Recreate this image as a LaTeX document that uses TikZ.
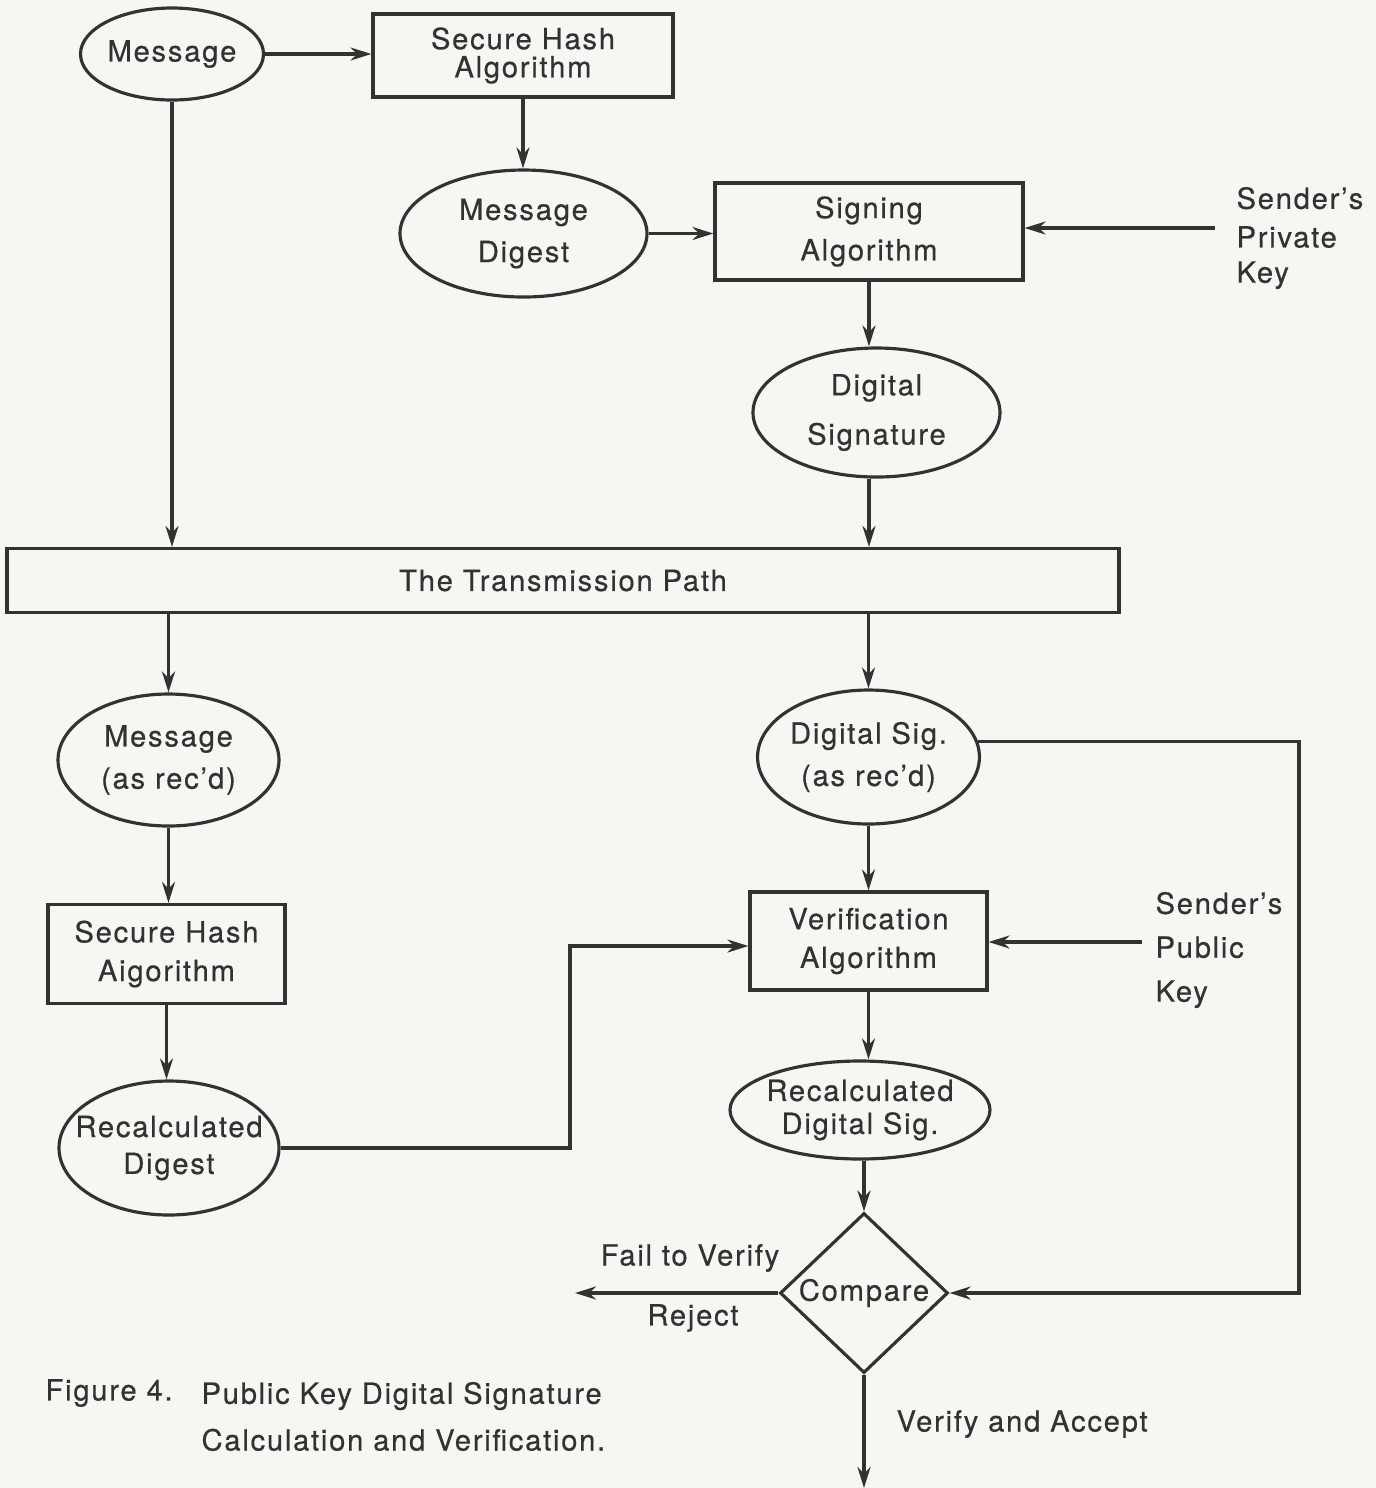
\documentclass[tikz,border=0pt]{standalone}
\usepackage{fontspec}
\setmainfont{TeX Gyre Heros}[LetterSpace=6,FakeBold=0.5]
\usetikzlibrary{shapes.geometric,arrows.meta}
\definecolor{paper}{RGB}{246,246,243}
\definecolor{ink}{RGB}{50,50,50}
\begin{document}
\begin{tikzpicture}[line width=0.9pt,draw=ink,text=ink,
    font=\fontsize{8.3}{10}\selectfont,
    box/.style={draw,rectangle,inner sep=0pt,align=center},
    oval/.style={draw,ellipse,inner sep=0pt,align=center},
    arr/.style={draw=ink,-{Stealth[length=2.1mm,width=1.3mm]}}]
  \fill[paper] (0,0) rectangle (13.76,-14.88);
  \useasboundingbox (0,0) rectangle (13.76,-14.88);
  \path (1.72,-0.54) node[oval,minimum width=1.83cm,minimum height=0.92cm] (msg) {Message};
  \path (5.23,-0.555) node[box,minimum width=3.00cm,minimum height=0.83cm] (sha) {Secure Hash\\[-2pt]Algorithm};
  \path (5.235,-2.335) node[oval,minimum width=2.47cm,minimum height=1.27cm] (md) {Message\\[2pt]Digest};
  \path (8.69,-2.315) node[box,minimum width=3.08cm,minimum height=0.97cm] (sign) {Signing\\[2pt]Algorithm};
  \path (12.35,-2.38) node[anchor=west,align=left,inner sep=0pt] (privkey) {Sender's\\[1pt]Private\\Key};
  \path (8.765,-4.125) node[oval,minimum width=2.47cm,minimum height=1.29cm] (ds) {Digital\\[4pt]Signature};
  \path (5.63,-5.805) node[box,minimum width=11.12cm,minimum height=0.64cm] (trans) {The Transmission Path};
  \path (1.685,-7.60) node[oval,minimum width=2.21cm,minimum height=1.32cm] (mrec) {Message\\[2pt](as rec'd)};
  \path (8.685,-7.57) node[oval,minimum width=2.21cm,minimum height=1.34cm] (dsrec) {Digital Sig.\\[2pt](as rec'd)};
  \path (1.665,-9.54) node[box,minimum width=2.37cm,minimum height=0.99cm] (sha2) {Secure Hash\\[1pt]Aigorithm};
  \path (8.685,-9.41) node[box,minimum width=2.37cm,minimum height=0.98cm] (verif) {Verification\\[1pt]Algorithm};
  \path (11.54,-9.50) node[anchor=west,align=left,inner sep=0pt] (pubkey) {Sender's\\[2.5pt]Public\\[2.5pt]Key};
  \path (1.69,-11.48) node[oval,inner xsep=-4.8pt,minimum width=2.20cm,minimum height=1.34cm] (rdig) {Recalculated\\[0.5pt]Digest};
  \path (8.60,-11.10) node[oval,inner xsep=-1pt,minimum width=2.60cm,minimum height=0.98cm] (rds) {Recalculated\\[-0.6pt]Digital Sig.};
  \path (8.64,-12.93) node[draw,diamond,inner sep=0pt,minimum width=1.68cm,minimum height=1.60cm] (cmp) {Compare};
  \path (6.90,-12.58) node (fail) {Fail to Verify};
  \path (6.93,-13.18) node (rej) {Reject};
  \path (8.95,-14.24) node[anchor=west,inner sep=0pt] (acc) {Verify and Accept};
  \path (0.44,-13.93) node[anchor=west,inner sep=0pt] (fig) {Figure 4.};
  \path (2.00,-14.165) node[anchor=west,align=left,inner sep=0pt] (cap) {Public Key Digital Signature\\[3.3pt]Calculation and Verification.};
  \coordinate (pk) at (12.15,-2.28);
  \coordinate (jn) at (5.70,-9.46);
  \coordinate (pub) at (11.42,-9.42);
  \coordinate (ret) at (12.99,-12.93);
  \coordinate (rejend) at (5.75,-12.93);
  \coordinate (out) at (8.64,-14.88);
  \draw[arr] (msg.east) -- (msg.east -| sha.west);
  \draw[arr] (sha.south) -- (sha.south |- md.north);
  \draw[arr] (md.east) -- (md.east -| sign.west);
  \draw[arr] (pk) -- (pk -| sign.east);
  \draw[arr] (sign.south) -- (sign.south |- ds.north);
  \draw[arr] (sign.south |- ds.south) -- (sign.south |- trans.north);
  \draw[arr] (msg.south) -- (msg.south |- trans.north);
  \draw[arr] (mrec.north |- trans.south) -- (mrec.north);
  \draw[arr] (dsrec.north |- trans.south) -- (dsrec.north);
  \draw[arr] (mrec.south) -- (mrec.south |- sha2.north);
  \draw[arr] (sha2.south) -- (sha2.south |- rdig.north);
  \draw[arr] (rdig.east) -| (jn) -- (jn -| verif.west);
  \draw[arr] (dsrec.south) -- (dsrec.south |- verif.north);
  \draw[arr] (pub) -- (pub -| verif.east);
  \draw[arr] (verif.south) -- (verif.south |- rds.north);
  \draw[arr] (cmp.north |- rds.south) -- (cmp.north);
  \draw[arr] (dsrec.8) -| (ret) -- (cmp.east);
  \draw[arr] (cmp.west) -- (rejend);
  \draw[arr] (cmp.south) -- (out);
\end{tikzpicture}
\end{document}
